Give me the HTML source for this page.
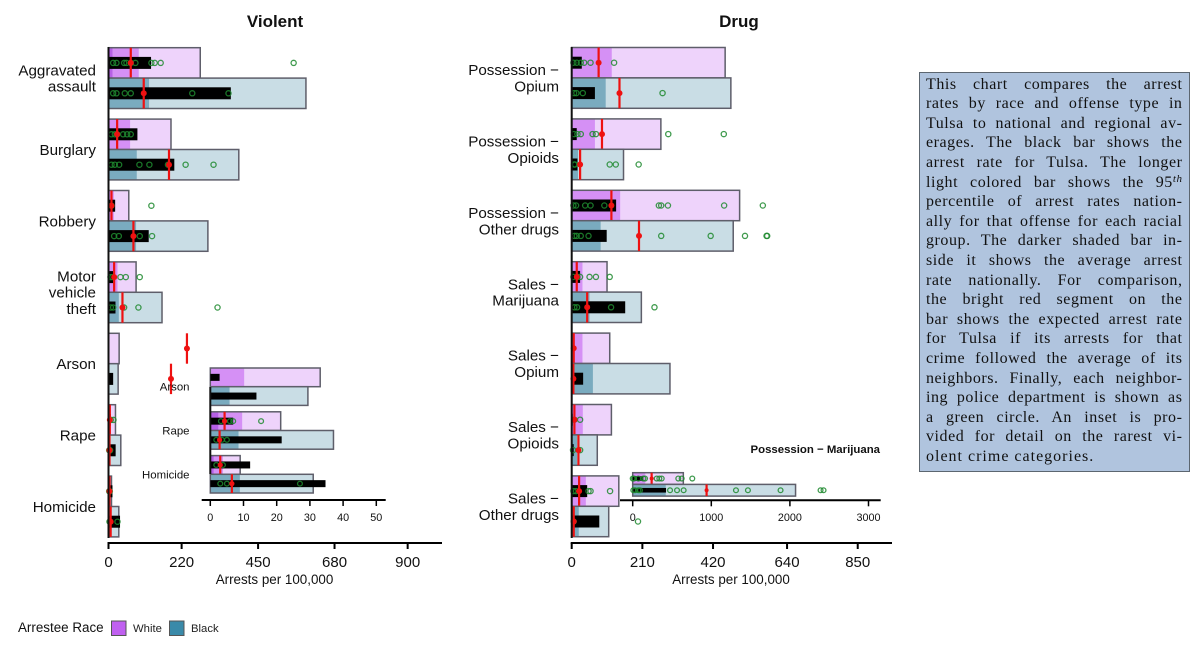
<!DOCTYPE html>
<html lang="en">
<head>
<meta charset="utf-8">
<title>Tulsa arrest rates by race and offense</title>
<style>
html,body{margin:0;padding:0;background:#fff;}
#stage{position:relative;width:1200px;height:650px;overflow:hidden;background:#fff;font-family:"Liberation Sans",sans-serif;}
#chart{position:absolute;left:0;top:0;}
#note{position:absolute;left:919px;top:72px;width:271px;height:400px;box-sizing:border-box;background:#b0c4de;border:1.5px solid #5c6670;color:#111;font-family:"Liberation Serif",serif;font-size:16px;line-height:19.6px;letter-spacing:.55px;padding:1.6px 6.5px 0 6px;}
#note span.l{display:block;text-align:justify;text-align-last:justify;white-space:nowrap;height:19.6px;}
#note span.e{display:block;text-align:left;white-space:nowrap;letter-spacing:1px;}
#note sup{font-size:11px;font-style:italic;line-height:0;position:relative;top:-5px;vertical-align:baseline;}
</style>
</head>
<body>
<div id="stage">
<svg id="chart" width="1200" height="650" viewBox="0 0 1200 650" xmlns="http://www.w3.org/2000/svg">
  <text x="275" y="27" text-anchor="middle" font-size="17" font-weight="bold" fill="#111">Violent</text>
  <text x="739" y="27" text-anchor="middle" font-size="17" font-weight="bold" fill="#111">Drug</text>
  <text x="274.5" y="584" text-anchor="middle" font-size="13.4" fill="#111">Arrests per 100,000</text>
  <text x="731" y="584" text-anchor="middle" font-size="13.4" fill="#111">Arrests per 100,000</text>
  <text x="880" y="453" text-anchor="end" font-size="11.4" font-weight="bold" fill="#111">Possession − Marijuana</text>
  <g>
    <text x="18" y="632" font-size="13.4" fill="#111">Arrestee Race</text>
    <rect x="111.5" y="621" width="14.5" height="14.5" fill="#c060f0" stroke="#555" stroke-width="1"></rect>
    <text x="133" y="632" font-size="11.3" fill="#222">White</text>
    <rect x="169.5" y="621" width="14.5" height="14.5" fill="#3a8aa9" stroke="#555" stroke-width="1"></rect>
    <text x="191" y="632" font-size="11.3" fill="#222">Black</text>
  </g>
</svg>
<div id="note"><span class="l">This chart compares the arrest</span><span class="l">rates by race and offense type in</span><span class="l">Tulsa to national and regional av-</span><span class="l">erages. The black bar shows the</span><span class="l">arrest rate for Tulsa. The longer</span><span class="l">light colored bar shows the 95<sup>th</sup></span><span class="l">percentile of arrest rates nation-</span><span class="l">ally for that offense for each racial</span><span class="l">group. The darker shaded bar in-</span><span class="l">side it shows the average arrest</span><span class="l">rate nationally. For comparison,</span><span class="l">the bright red segment on the</span><span class="l">bar shows the expected arrest rate</span><span class="l">for Tulsa if its arrests for that</span><span class="l">crime followed the average of its</span><span class="l">neighbors. Finally, each neighbor-</span><span class="l">ing police department is shown as</span><span class="l">a green circle. An inset is pro-</span><span class="l">vided for detail on the rarest vi-</span><span class="e">olent crime categories.</span></div>
</div>
<script>
// ---- Violent panel data ----
const violentCategories = ["Aggravated\nassault","Burglary","Robbery","Motor\nvehicle\ntheft","Arson","Rape","Homicide"];
const violentTicks = [0,220,450,680,900];
const violentWhiteP95 = [276,188,61,83,32,21,9];
const violentWhiteMean = [91,65,16,27,0,0,3];
const violentWhiteCore = [12,0,0,0,0,0,0];
const violentWhiteTulsa = [128,87,20,14,3,7,12];
const violentWhiteExpected = [67,26,9,17,236,4,3];
const violentWhiteNeighbors = [[14,24,47,54,67,81,129,139,157,557],[9,19,26,44,56,67],[9,129],[6,12,36,52,94],[],[7,15],[2,4]];
const violentBlackP95 = [594,392,299,161,29,37,31];
const violentBlackMean = [122,85,83,31,0,0,8];
const violentBlackTulsa = [368,198,121,21,14,21.5,34.7];
const violentBlackExpected = [106,182,75,42,188,3,6.5];
const violentBlackNeighbors = [[14,24,49,67,252,361],[9,19,32,93,123,179,232,316],[17,31,94,131],[7,14,47,90,328],[],[2,4,5],[3,5,27]];

// ---- Violent inset data ----
const insetViolentCategories = ["Arson","Rape","Homicide"];
const insetViolentTicks = [0,10,20,30,40,50];
const insetViolentWhiteP95 = [33.1,21.2,9];
const insetViolentWhiteMean = [10.2,9.6,3.8];
const insetViolentWhiteCore = [0,2.4,1];
const insetViolentWhiteTulsa = [2.8,6.9,12];
const insetViolentWhiteExpected = [null,4.3,3];
const insetViolentWhiteNeighbors = [[],[3.2,5.9,6.9,15.3],[1.8,3.8]];
const insetViolentBlackP95 = [29.4,37.1,31];
const insetViolentBlackMean = [5.8,8.5,8.9];
const insetViolentBlackTulsa = [13.9,21.5,34.7];
const insetViolentBlackExpected = [null,2.8,6.5];
const insetViolentBlackNeighbors = [[],[1.8,3.5,5],[3,5,27]];

// ---- Drug panel data ----
const drugCategories = ["Possession −\nOpium","Possession −\nOpioids","Possession −\nOther drugs","Sales −\nMarijuana","Sales −\nOpium","Sales −\nOpioids","Sales −\nOther drugs"];
const drugTicks = [0,210,420,640,850];
const drugWhiteP95 = [456,265,499,105,113,118,140];
const drugWhiteMean = [119,69,144,32,32,33,42];
const drugWhiteCore = [0,0,0,0,0,0,0];
const drugWhiteTulsa = [30,15,132,25,0,3,46];
const drugWhiteExpected = [80,90,118,15,6,8,22];
const drugWhiteNeighbors = [[5,15,27,37,56,126],[7,17,27,62,72,287,452],[5,13,40,56,97,259,266,286,453,568],[5,17,25,53,72,113],[],[8,25],[5,13,50,56,114]];
const drugBlackP95 = [473,154,480,207,292,76,110];
const drugBlackMean = [101,19,86,53,63,16,21];
const drugBlackTulsa = [69,17,104,159,34,6,82];
const drugBlackExpected = [142,25,200,46,5,20,6];
const drugBlackNeighbors = [[7,14,33,270],[7,10,113,131,199],[8,15,27,50,266,413,515,579,581],[8,16,117,246],[],[4,25],[6,197]];

// ---- Drug inset data ----
const insetDrugCategories = [""];
const insetDrugTicks = [0,1000,2000,3000];
const insetDrugWhiteP95 = [644];
const insetDrugWhiteMean = [160];
const insetDrugWhiteCore = [0];
const insetDrugWhiteTulsa = [135];
const insetDrugWhiteExpected = [241];
const insetDrugWhiteNeighbors = [[0,17,72,136,157,305,339,369,580,623,758]];
const insetDrugBlackP95 = [2072];
const insetDrugBlackMean = [420];
const insetDrugBlackTulsa = [424];
const insetDrugBlackExpected = [940];
const insetDrugBlackNeighbors = [[8,30,72,93,475,564,648,1314,1466,1881,2390,2428]];

const NS = "http://www.w3.org/2000/svg";
const svg = document.getElementById("chart");

function mk(parent, tag, attrs) {
  const el = document.createElementNS(NS, tag);
  for (const k in attrs) el.setAttribute(k, attrs[k]);
  parent.appendChild(el);
  return el;
}

function drawRow(g, o, prefix, fills, top, p95, mean, core, tulsa, expected, neighbors) {
  const X = o.x;
  const x0 = X(0);
  const mid = top + o.barH / 2;

  const bg = mk(g, "rect", {x: x0, y: top, width: X(p95) - x0, height: o.barH, fill: fills.light});
  
  

  const mb = mk(g, "rect", {x: x0, y: top, width: X(mean) - x0, height: o.barH, fill: fills.mid});
  
  

  if (core > 0) {
    const cb = mk(g, "rect", {x: x0, y: top, width: X(core) - x0, height: o.barH, fill: fills.core});
    
    
  }

  const outline = mk(g, "rect", {x: x0, y: top, width: X(p95) - x0, height: o.barH, fill: "none", stroke: "#5e5e6a", "stroke-width": 1.5});
  
  

  const tb = mk(g, "rect", {x: x0, y: mid - o.tulsaH / 2, width: X(tulsa) - x0, height: o.tulsaH, fill: "#000"});
  
  

  neighbors.forEach(function (v) {
    const c = mk(g, "circle", {cx: X(v), cy: mid, r: o.circleR, fill: "none", stroke: "#1f8a2f", "stroke-opacity": 0.85, "stroke-width": 1.3});
    
    
  });

  if (expected !== null) {
    const rl = mk(g, "line", {x1: X(expected), x2: X(expected), y1: top, y2: top + o.barH, stroke: "#ee1111", "stroke-width": 2.2});
    
    

    const rd = mk(g, "circle", {cx: X(expected), cy: mid, r: o.dotR, fill: "#ee1111"});
    
    
  }
}

function drawPanel(o) {
  const g = mk(svg, "g", {});
  
  

  const whiteFills = {light: "#eed3fb", mid: "#d590f5", core: "#b660e6"};
  const blackFills = {light: "#c9dde5", mid: "#7aabbf", core: "#5f98b0"};

  o.categories.forEach(function (cat, i) {
    const top = o.top + o.pitch * i;
    const centre = top + o.barH;
    const rowName = o.name + '-' + (cat.replace(/[^A-Za-z]+/g, '-').replace(/-$/, '').toLowerCase() || 'row');

    if (cat) {
      const lines = cat.split("\n");
      const first = centre + o.labelShift - (lines.length - 1) * o.labelLine / 2;
      const t = mk(g, "text", {"text-anchor": "end", "font-size": o.labelSize, fill: "#111"});
      
      
      lines.forEach(function (line, j) {
        const ts = mk(t, "tspan", {x: o.labelX, y: first + j * o.labelLine});
        ts.textContent = line;
      });
    }

    drawRow(g, o, rowName + '-white', whiteFills, top,
      o.whiteP95[i], o.whiteMean[i], o.whiteCore[i], o.whiteTulsa[i], o.whiteExpected[i], o.whiteNeighbors[i]);
    drawRow(g, o, rowName + '-black', blackFills, top + o.barH,
      o.blackP95[i], o.blackMean[i], 0, o.blackTulsa[i], o.blackExpected[i], o.blackNeighbors[i]);
  });

  if (o.vAxis) {
    const v = mk(g, "line", {x1: o.x(0), x2: o.x(0), y1: o.vAxis[0], y2: o.vAxis[1], stroke: "#111", "stroke-width": 2});
    
    
  }

  const a = mk(g, "line", {x1: o.axisFrom, x2: o.axisTo, y1: o.axisY, y2: o.axisY, stroke: "#000", "stroke-width": 2});
  
  

  o.ticks.forEach(function (tv) {
    const tk = mk(g, "line", {x1: o.x(tv), x2: o.x(tv), y1: o.axisY, y2: o.axisY + o.tickLen, stroke: "#000", "stroke-width": o.tickW});
    
    

    const tl = mk(g, "text", {x: o.x(tv), y: o.tickBase, "text-anchor": "middle", "font-size": o.tickSize, fill: "#111"});
    tl.textContent = String(tv);
    
    
  });
}

function linear(px0, pxPerUnit) {
  return function (v) { return px0 + v * pxPerUnit; };
}

drawPanel({
  name: "violent-panel", x: linear(108.5, 0.3324), top: 47.7, pitch: 71.4, barH: 30.4, tulsaH: 12,
  circleR: 2.6, dotR: 3, labelX: 96, labelSize: 15.2, labelLine: 16.4, labelShift: 5.4,
  vAxis: [47, 538], axisFrom: 107.5, axisTo: 442, axisY: 543, tickLen: 6, tickW: 2, tickBase: 567, tickSize: 15,
  categories: violentCategories, ticks: violentTicks,
  whiteP95: violentWhiteP95, whiteMean: violentWhiteMean, whiteCore: violentWhiteCore, whiteTulsa: violentWhiteTulsa,
  whiteExpected: violentWhiteExpected, whiteNeighbors: violentWhiteNeighbors,
  blackP95: violentBlackP95, blackMean: violentBlackMean, blackTulsa: violentBlackTulsa,
  blackExpected: violentBlackExpected, blackNeighbors: violentBlackNeighbors
});

drawPanel({
  name: "drug-panel", x: linear(571.7, 0.3365), top: 47.5, pitch: 71.4, barH: 30.4, tulsaH: 12,
  circleR: 2.6, dotR: 3, labelX: 559, labelSize: 15.2, labelLine: 16.4, labelShift: 5.4,
  vAxis: [47, 538], axisFrom: 570.7, axisTo: 892, axisY: 543, tickLen: 6, tickW: 2, tickBase: 567, tickSize: 15,
  categories: drugCategories, ticks: drugTicks,
  whiteP95: drugWhiteP95, whiteMean: drugWhiteMean, whiteCore: drugWhiteCore, whiteTulsa: drugWhiteTulsa,
  whiteExpected: drugWhiteExpected, whiteNeighbors: drugWhiteNeighbors,
  blackP95: drugBlackP95, blackMean: drugBlackMean, blackTulsa: drugBlackTulsa,
  blackExpected: drugBlackExpected, blackNeighbors: drugBlackNeighbors
});

drawPanel({
  name: "violent-inset", x: linear(210.3, 3.32), top: 368, pitch: 43.8, barH: 18.7, tulsaH: 7,
  circleR: 2.4, dotR: 2.6, labelX: 189.5, labelSize: 11.4, labelLine: 13, labelShift: 4,
  vAxis: [387, 474], axisFrom: 201.7, axisTo: 385.7, axisY: 500, tickLen: 6, tickW: 1.5, tickBase: 521, tickSize: 10.8,
  categories: insetViolentCategories, ticks: insetViolentTicks,
  whiteP95: insetViolentWhiteP95, whiteMean: insetViolentWhiteMean, whiteCore: insetViolentWhiteCore, whiteTulsa: insetViolentWhiteTulsa,
  whiteExpected: insetViolentWhiteExpected, whiteNeighbors: insetViolentWhiteNeighbors,
  blackP95: insetViolentBlackP95, blackMean: insetViolentBlackMean, blackTulsa: insetViolentBlackTulsa,
  blackExpected: insetViolentBlackExpected, blackNeighbors: insetViolentBlackNeighbors
});

drawPanel({
  name: "drug-inset", x: linear(632.7, 0.0786), top: 472.7, pitch: 0, barH: 11.7, tulsaH: 4.6,
  circleR: 2.4, dotR: 2, labelX: 620, labelSize: 11, labelLine: 13, labelShift: 4,
  vAxis: null, axisFrom: 620, axisTo: 880.7, axisY: 500.3, tickLen: 6, tickW: 1.5, tickBase: 521, tickSize: 10.8,
  categories: insetDrugCategories, ticks: insetDrugTicks,
  whiteP95: insetDrugWhiteP95, whiteMean: insetDrugWhiteMean, whiteCore: insetDrugWhiteCore, whiteTulsa: insetDrugWhiteTulsa,
  whiteExpected: insetDrugWhiteExpected, whiteNeighbors: insetDrugWhiteNeighbors,
  blackP95: insetDrugBlackP95, blackMean: insetDrugBlackMean, blackTulsa: insetDrugBlackTulsa,
  blackExpected: insetDrugBlackExpected, blackNeighbors: insetDrugBlackNeighbors
});
</script>
</body>
</html>
